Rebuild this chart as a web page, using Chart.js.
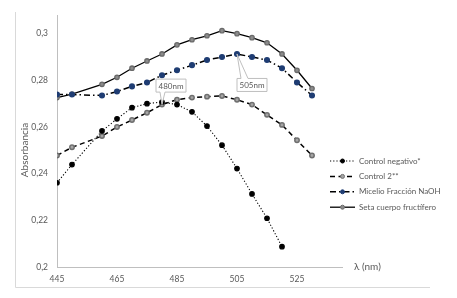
<!DOCTYPE html>
<html><head><meta charset="utf-8">
<script src="https://cdn.jsdelivr.net/npm/chart.js@4/dist/chart.umd.min.js"></script>
<style>html,body{margin:0;padding:0;background:#fff}#wrap{width:457px;height:298px}</style>
</head><body><div id="wrap"><canvas id="c" width="457" height="298"></canvas></div>
<script>
const wavelengths = [445,450,460,465,470,475,480,485,490,495,500,505,510,515,520,525,530];
const controlNegativo = [0.2361,0.2439,0.2583,0.2635,0.2683,0.2700,0.2707,0.2696,0.2665,0.2604,0.2522,0.2422,0.2313,0.2209,0.2087,null,null];
const control2 = [0.2478,0.2513,0.2561,0.2600,0.2630,0.2661,0.2696,0.2717,0.2726,0.2730,0.2733,0.2717,0.2696,0.2652,0.2609,0.2543,0.2478];
const micelioNaOH = [0.2739,0.2739,0.2735,0.2752,0.2774,0.2791,0.2822,0.2843,0.2865,0.2887,0.2900,0.2913,0.2900,0.2887,0.2852,0.2791,0.2735];
const setaCuerpo = [0.2726,0.2741,0.2783,0.2813,0.2852,0.2883,0.2913,0.2952,0.2974,0.2991,0.3013,0.3000,0.2983,0.2961,0.2913,0.2843,0.2765];
const seriesNames = ["Control negativo*","Control 2**","Micelio Fracción NaOH","Seta cuerpo fructífero"];
const xTicks = [445,465,485,505,525];
const yTicks = [0.2,0.22,0.24,0.26,0.28,0.3];
const yTitle = "Absorbancia";
const xTitle = "λ (nm)";
const calloutLabels = ["480nm","505nm"];

const FONT = "Lato, 'Open Sans', sans-serif";
const GRAY = "#595959";
function pts(arr){ return wavelengths.map((x,i)=>({x:x,y:arr[i]})).filter(p=>p.y!==null); }

const styles = [
  {borderColor:'#000', borderDash:[1.2,2], borderWidth:1.1, pointBackgroundColor:'#000', pointBorderColor:'#000', pointRadius:2.3},
  {borderColor:'#000', borderDash:[5,3.5], borderWidth:1.5, pointBackgroundColor:'#a6a6a6', pointBorderColor:'#6f6f6f', pointRadius:2.2},
  {borderColor:'#000', borderDash:[6,3,1.5,3], borderWidth:1.5, pointBackgroundColor:'#1f3d73', pointBorderColor:'#1f3d73', pointRadius:2.3},
  {borderColor:'#000', borderDash:[], borderWidth:1.3, pointBackgroundColor:'#8c8c8c', pointBorderColor:'#6a6a6a', pointRadius:2.2}
];
const seriesData = [controlNegativo, control2, micelioNaOH, setaCuerpo];

const deco = {
  id:'deco',
  afterDraw(chart){
    const ctx = chart.ctx, xs = chart.scales.x, ys = chart.scales.y;
    ctx.save();
    ctx.strokeStyle = '#d9d9d9'; ctx.lineWidth = 1;
    ctx.beginPath(); ctx.moveTo(15.5,12); ctx.lineTo(15.5,287.5); ctx.lineTo(430,287.5); ctx.stroke();
    ctx.fillStyle = GRAY; ctx.font = "10px " + FONT;
    ctx.translate(25, 150); ctx.rotate(-Math.PI/2);
    ctx.textAlign='center'; ctx.textBaseline='middle';
    ctx.fillText(yTitle, 0, 0);
    ctx.setTransform(1,0,0,1,0,0);
    ctx.font = "10px " + FONT; ctx.textAlign='left'; ctx.textBaseline='middle';
    ctx.fillText(xTitle, chart.chartArea.right + 12, ys.getPixelForValue(0.2));
    const lx = 330, ly0 = 161, dy = 15.4;
    chart.data.datasets.forEach((ds,i)=>{
      const y = ly0 + i*dy;
      ctx.strokeStyle = ds.borderColor; ctx.lineWidth = ds.borderWidth;
      ctx.setLineDash(ds.borderDash);
      ctx.beginPath(); ctx.moveTo(lx, y); ctx.lineTo(lx+25, y); ctx.stroke();
      ctx.setLineDash([]);
      ctx.fillStyle = ds.pointBackgroundColor; ctx.strokeStyle = ds.pointBorderColor; ctx.lineWidth=1;
      ctx.beginPath(); ctx.arc(lx+12.5, y, 2, 0, Math.PI*2); ctx.fill(); ctx.stroke();
      ctx.fillStyle = GRAY; ctx.font = "8px " + FONT; ctx.textAlign='left'; ctx.textBaseline='middle';
      ctx.fillText(ds.label, lx+29, y);
    });
    const anchors = [
      {x:xs.getPixelForValue(wavelengths[6]), y:ys.getPixelForValue(control2[6]), dx:9, dy:-19, text:calloutLabels[0]},
      {x:xs.getPixelForValue(wavelengths[11]), y:ys.getPixelForValue(micelioNaOH[11]), dx:15, dy:31, text:calloutLabels[1]}
    ];
    anchors.forEach(a=>{
      const cx = a.x + a.dx, cy = a.y + a.dy, w = 30, h = 13;
      const l = cx - w/2, t = cy - h/2;
      ctx.fillStyle='#fff'; ctx.strokeStyle='#bfbfbf'; ctx.lineWidth=1;
      ctx.beginPath();
      if (a.dy < 0) {
        ctx.moveTo(l, t); ctx.lineTo(l+w, t); ctx.lineTo(l+w, t+h); ctx.lineTo(l+9, t+h);
        ctx.lineTo(a.x, a.y); ctx.lineTo(l+4, t+h); ctx.lineTo(l, t+h); ctx.closePath();
      } else {
        ctx.moveTo(l, t); ctx.lineTo(l+4, t); ctx.lineTo(a.x, a.y); ctx.lineTo(l+11, t);
        ctx.lineTo(l+w, t); ctx.lineTo(l+w, t+h); ctx.lineTo(l, t+h); ctx.closePath();
      }
      ctx.fill(); ctx.stroke();
      ctx.fillStyle = GRAY; ctx.font = "8px " + FONT; ctx.textAlign='center'; ctx.textBaseline='middle';
      ctx.fillText(a.text, cx, cy+0.5);
    });
    ctx.restore();
  }
};

new Chart(document.getElementById('c'), {
  type:'line',
  data:{
    datasets: seriesNames.map((n,i)=>Object.assign({label:n, data:pts(seriesData[i]), fill:false, tension:0, pointHoverRadius:3}, styles[i]))
  },
  options:{
    responsive:false, devicePixelRatio:1, animation:false,
    layout:{padding:{top:15, right:115, bottom:0, left:0}},
    plugins:{legend:{display:false}, tooltip:{enabled:false}},
    scales:{
      x:{type:'linear', min:445, max:540,
         afterBuildTicks(s){ s.ticks = xTicks.map(v=>({value:v})); },
         afterFit(s){ s.height = 31; },
         grid:{display:false, drawTicks:false},
         border:{display:true, color:'#bfbfbf', width:1},
         ticks:{color:GRAY, font:{family:FONT, size:8.5}, padding:7, maxRotation:0, callback:v=>String(v)}
      },
      y:{type:'linear', min:0.2, max:0.308,
         afterBuildTicks(s){ s.ticks = yTicks.map(v=>({value:v})); },
         afterFit(s){ s.width = 57; },
         grid:{display:false, drawTicks:false},
         border:{display:true, color:'#bfbfbf', width:1},
         ticks:{color:GRAY, font:{family:FONT, size:8.5}, padding:9, callback:v=>String(Math.round(v*100)/100).replace('.',',')}
      }
    }
  },
  plugins:[deco]
});
</script></body></html>
